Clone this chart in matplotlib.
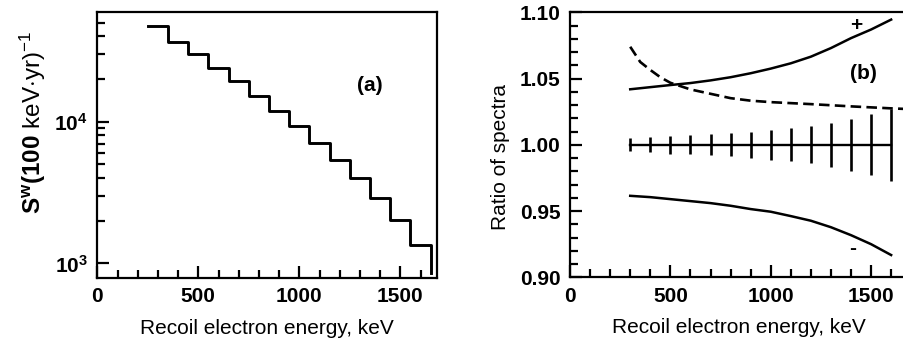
"""Recoil electron spectrum (a) and ratio of spectra (b)."""

import matplotlib

matplotlib.use("Agg")
import matplotlib.pyplot as plt
from matplotlib.ticker import FixedLocator, MultipleLocator, NullFormatter


# Panel (a): histogram with 100 keV bins
BIN_EDGES = [250, 350, 450, 550, 650, 750, 850, 950, 1050, 1150, 1250, 1350,
             1450, 1550, 1650]
SPECTRUM = [47300, 36700, 30000, 24100, 19500, 15300, 11960, 9320, 7030,
            5330, 3980, 2880, 2020, 1360]
END_LEVEL = 860

# Panel (b): ratio curves
UPPER_E = [300, 500, 600, 700, 800, 900, 1000, 1100, 1200, 1300, 1400, 1500,
           1600]
UPPER_RATIO = [1.0419, 1.0451, 1.0466, 1.0486, 1.0510, 1.0540, 1.0575,
               1.0615, 1.0665, 1.0730, 1.0805, 1.0870, 1.0945]

DASHED_E = [300, 350, 400, 450, 500, 600, 700, 800, 900, 1000, 1200, 1400,
            1600, 1680]
DASHED_RATIO = [1.0740, 1.0625, 1.0565, 1.0510, 1.0468, 1.0418, 1.0385,
                1.0352, 1.0333, 1.0322, 1.0307, 1.0290, 1.0275, 1.0270]

LOWER_E = [300, 400, 500, 600, 700, 800, 900, 1000, 1100, 1200, 1300, 1400,
           1500, 1600]
LOWER_RATIO = [0.9615, 0.9605, 0.9590, 0.9575, 0.9560, 0.9540, 0.9515,
               0.9495, 0.9462, 0.9427, 0.9378, 0.9318, 0.9250, 0.9168]

POINT_E = [300, 400, 500, 600, 700, 800, 900, 1000, 1100, 1200, 1300, 1400,
           1500, 1600]
POINT_RATIO = [1.0] * len(POINT_E)
POINT_ERR = [0.0050, 0.0058, 0.0067, 0.0073, 0.0078, 0.0088, 0.0096, 0.0112,
             0.0126, 0.0141, 0.0164, 0.0194, 0.0229, 0.0270]

plt.rcParams["font.family"] = ["Liberation Sans", "DejaVu Sans"]
plt.rcParams["mathtext.fontset"] = "custom"
plt.rcParams["mathtext.rm"] = "Liberation Sans"
plt.rcParams["mathtext.bf"] = "Liberation Sans:bold"
plt.rcParams["mathtext.it"] = "Liberation Sans:italic"

W, H = 904, 349
fig = plt.figure(figsize=(W / 100, H / 100), dpi=100)


def frac(left, top, right, bottom):
    return [left / W, 1 - bottom / H, (right - left) / W, (bottom - top) / H]


def style_axes(ax):
    for spine in ax.spines.values():
        spine.set_linewidth(1.6)
    ax.tick_params(which="both", direction="in", top=False, right=False,
                   width=1.6)
    ax.tick_params(which="major", length=8.5, pad=7, labelsize=15)
    ax.tick_params(which="minor", length=5.5)
    for label in ax.get_xticklabels() + ax.get_yticklabels():
        label.set_fontweight("bold")


# ---- panel (a)
ax_a = fig.add_axes(frac(97.3, 12.3, 436.7, 277.7))
ax_a.step(BIN_EDGES, SPECTRUM + [END_LEVEL], where="post", color="black",
          lw=2.1)
ax_a.set_yscale("log")
ax_a.set_xlim(0, 1680)
ax_a.set_ylim(793, 59200)
ax_a.xaxis.set_major_locator(MultipleLocator(500))
ax_a.xaxis.set_minor_locator(MultipleLocator(100))
ax_a.yaxis.set_major_locator(FixedLocator([1e3, 1e4]))
ax_a.set_yticklabels([r"$\mathbf{10^{3}}$", r"$\mathbf{10^{4}}$"])
ax_a.yaxis.set_minor_locator(FixedLocator(
    [k * 1e3 for k in range(2, 10)] + [k * 1e4 for k in range(2, 6)]))
ax_a.yaxis.set_minor_formatter(NullFormatter())
style_axes(ax_a)
ax_a.text(1350, 17900, "(a)", fontsize=15, fontweight="bold",
          ha="center", va="center")
ax_a.set_xlabel("Recoil electron energy, keV", fontsize=15)
ax_a.xaxis.set_label_coords(0.5, -0.155)
fig.text(33 / W, 1 - 122 / H,
         r"$\mathbf{S^{w}(100}$ keV$\cdot$yr$)^{-1}$",
         rotation=90, ha="center", va="center", fontsize=17.5)

# ---- panel (b)
ax_b = fig.add_axes(frac(570, 12.3, 907.2, 277.3))
ax_b.plot(UPPER_E, UPPER_RATIO, color="black", lw=1.8)
ax_b.plot(DASHED_E, DASHED_RATIO, color="black", lw=1.9, dashes=(4, 2))
ax_b.plot(LOWER_E, LOWER_RATIO, color="black", lw=1.8)
ax_b.errorbar(POINT_E, POINT_RATIO, yerr=POINT_ERR, color="black", lw=1.7,
              elinewidth=1.9, capsize=0)
ax_b.set_xlim(0, 1680)
ax_b.set_ylim(0.90, 1.10)
ax_b.xaxis.set_major_locator(MultipleLocator(500))
ax_b.xaxis.set_minor_locator(MultipleLocator(100))
ax_b.yaxis.set_major_locator(MultipleLocator(0.05))
ax_b.yaxis.set_minor_locator(MultipleLocator(0.01))
ax_b.yaxis.set_major_formatter("{x:.2f}")
style_axes(ax_b)
ax_b.text(1460, 1.054, "(b)", fontsize=15, fontweight="bold",
          ha="center", va="center")
ax_b.text(1428, 1.0904, "+", fontsize=15, fontweight="bold",
          ha="center", va="center")
ax_b.text(1407, 0.9219, "-", fontsize=15, fontweight="bold",
          ha="center", va="center")
ax_b.set_xlabel("Recoil electron energy, keV", fontsize=15)
ax_b.xaxis.set_label_coords(0.5, -0.155)
fig.text(501 / W, 1 - 157 / H, "Ratio of spectra", rotation=90,
         ha="center", va="center", fontsize=15)

fig.savefig("out.png", dpi=100)
